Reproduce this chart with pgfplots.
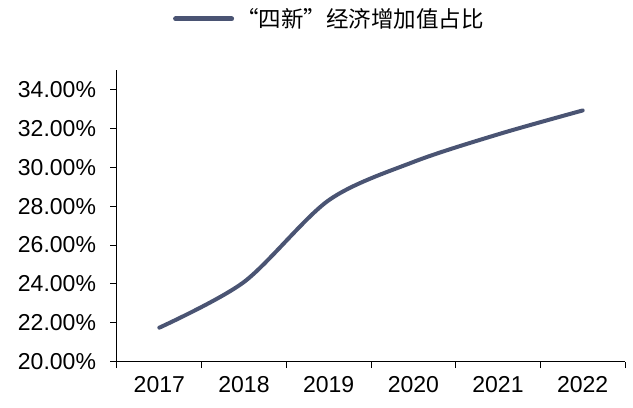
\documentclass[border=0pt]{standalone}
\usepackage{pgfplots}
\pgfplotsset{compat=1.18}
\usepackage{fontspec}
\setmainfont{Liberation Sans}
\newfontfamily\cjk{Noto Sans CJK SC}
\definecolor{lineblue}{HTML}{4A5473}
\begin{document}
\begin{tikzpicture}
\begin{axis}[
  scale only axis,
  width=508pt, height=291.7pt,
  xmin=-0.5, xmax=5.5,
  ymin=20, ymax=35,
  axis x line*=bottom, axis y line*=left,
  axis line style={black, line width=1pt},
  xtick={0,...,5},
  xticklabels={2017,2018,2019,2020,2021,2022},
  minor xtick={-0.5,0.5,...,5.5},
  major x tick style={draw=none},
  minor tick length=6.5pt,
  major tick length=6.5pt,
  tick align=outside,
  tick style={black, line width=1pt},
  ytick={20,22,...,34},
  yticklabel={\pgfmathprintnumber[fixed,fixed zerofill,precision=2]{\tick}\%},
  /pgf/number format/assume math mode=true,
  ticklabel style={font=\fontsize{23}{27}\selectfont, text=black},
  yticklabel style={xshift=-11pt},
  xticklabel style={yshift=-5pt},
  legend style={draw=none, fill=none, at={(0.418,1.175)}, anchor=center,
    font=\fontsize{22.5}{26}\selectfont\cjk, inner sep=0pt},
  legend image code/.code={\draw[line width=5pt, line cap=round, lineblue] (0pt,0pt) -- (56pt,0pt);},
  legend cell align=left,
]
\addplot[lineblue, line width=4pt, line cap=round, smooth] coordinates {
  (0,21.75) (1,24.1) (2,28.3) (3,30.27) (4,31.69) (5,32.92)
};
\addlegendentry{“四新”经济增加值占比}
\end{axis}
\pgfresetboundingbox
\path ([xshift=-117pt,yshift=-45.3pt]current axis.south west) rectangle ([xshift=8pt,yshift=70pt]current axis.north east);
\end{tikzpicture}
\end{document}
